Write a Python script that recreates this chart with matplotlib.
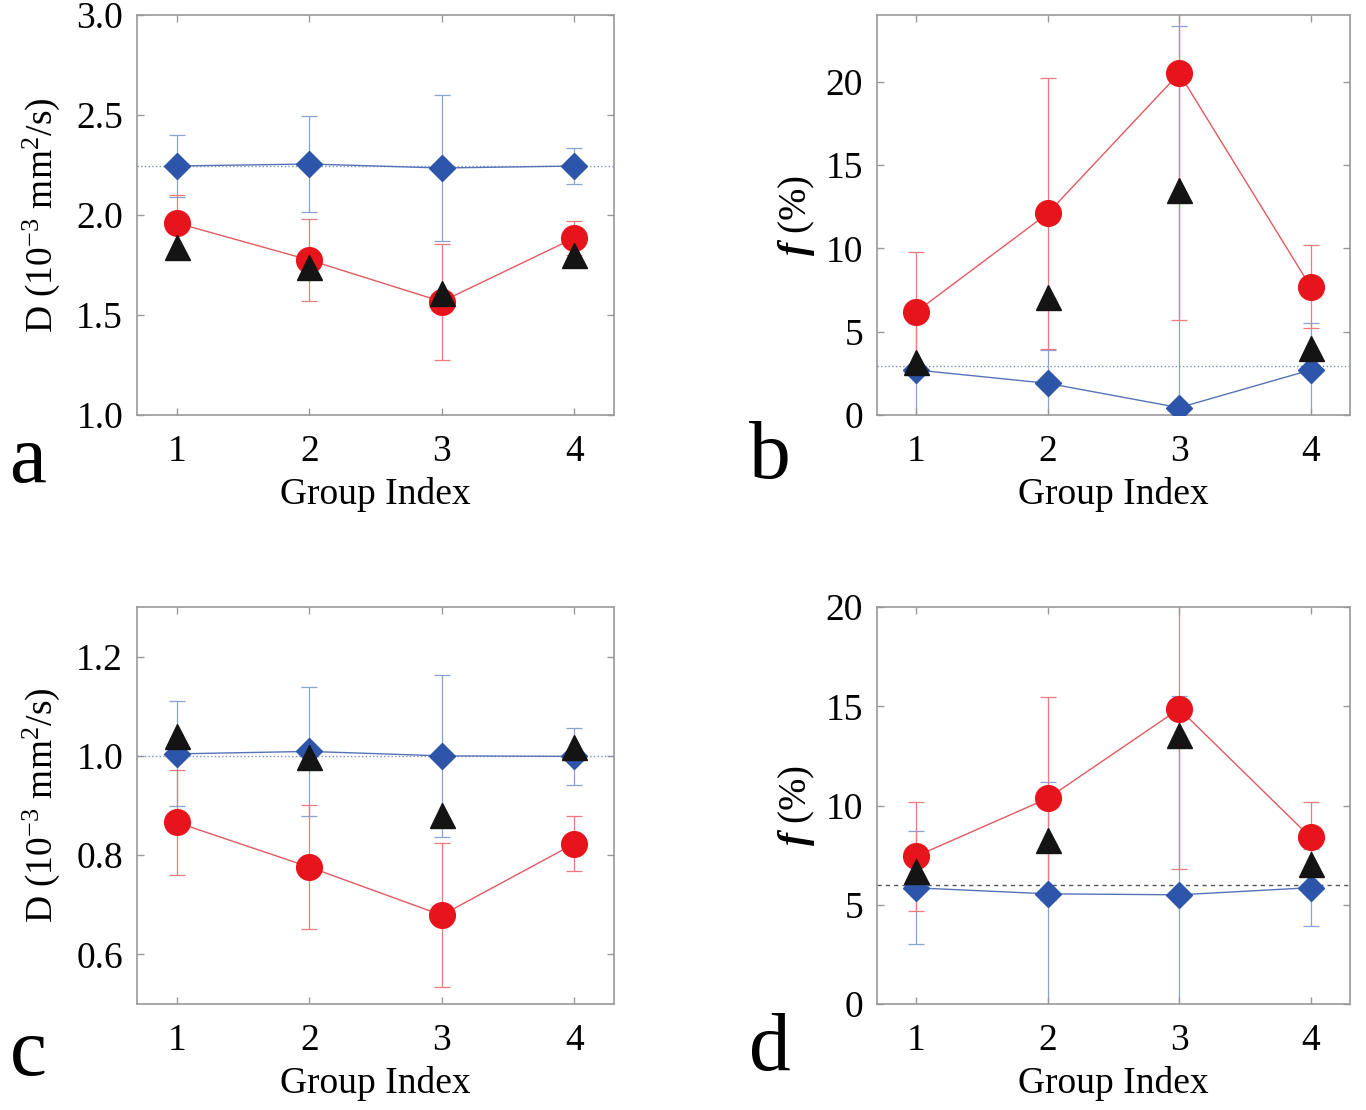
import numpy as np
import matplotlib
matplotlib.use("Agg")
import matplotlib.pyplot as plt

plt.rcParams["font.family"] = "Liberation Serif"
plt.rcParams["mathtext.fontset"] = "custom"
plt.rcParams["mathtext.rm"] = "Liberation Serif"
plt.rcParams["mathtext.it"] = "Liberation Serif:italic:bold"
plt.rcParams["mathtext.bf"] = "Liberation Serif:bold"

groups = [1, 2, 3, 4]

# panel a: D, first set
a_blue = [2.245, 2.255, 2.235, 2.245]
a_blue_err = [0.155, 0.24, 0.365, 0.09]
a_red = [1.96, 1.775, 1.567, 1.885]
a_red_err = [0.14, 0.205, 0.29, 0.085]
a_black = [1.84, 1.74, 1.61, 1.80]
a_ref = 2.245

# panel b: f, first set
b_blue = [2.7, 1.9, 0.44, 2.7]
b_blue_err = [2.8, 2.0, 22.9, 2.8]
b_red = [6.2, 12.1, 20.5, 7.7]
b_red_err = [3.6, 8.15, 14.8, 2.5]
b_black = [3.2, 7.1, 13.5, 4.0]
b_ref = 2.95

# panel c: D, second set
c_blue = [1.004, 1.009, 1.0, 0.999]
c_blue_err = [0.106, 0.13, 0.163, 0.057]
c_red = [0.866, 0.776, 0.679, 0.823]
c_red_err = [0.106, 0.125, 0.145, 0.055]
c_black = [1.04, 0.998, 0.88, 1.018]
c_ref = 1.0

# panel d: f, second set
d_blue = [5.85, 5.55, 5.5, 5.86]
d_blue_err = [2.85, 5.65, 10.0, 1.95]
d_red = [7.45, 10.36, 14.87, 8.39]
d_red_err = [2.75, 5.1, 8.07, 1.8]
d_black = [6.7, 8.25, 13.57, 7.07]
d_ref = 6.0

RED = "#e8141c"
RED_LINE = "#e05a60"
RED_LIGHT = "#ef7a7e"
BLUE = "#2d55aa"
BLUE_LINE = "#5574b8"
BLUE_LIGHT = "#88a2d4"
BLACK = "#141414"
GRAY = "#999999"

D_LABEL = r"D (10$^{-3}$ mm$^{2}$/s)"
F_LABEL = r"$f$ (%)"

fig = plt.figure(figsize=(13.66, 11.10), dpi=100)

W, H = 1366, 1110


def make_axes(left, top, right, bottom):
    return fig.add_axes([left / W, 1 - bottom / H, (right - left) / W, (bottom - top) / H])


def draw_panel(ax, blue, blue_err, red, red_err, black, ref, ref_style, ref_color):
    ax.axhline(ref, ls=ref_style, color=ref_color, lw=1.0, zorder=2)
    ax.errorbar(groups, blue, yerr=blue_err, fmt="none", ecolor=BLUE_LIGHT,
                elinewidth=0.9, capsize=6, capthick=0.9, zorder=1)
    ax.errorbar(groups, red, yerr=red_err, fmt="none", ecolor=RED_LIGHT,
                elinewidth=0.9, capsize=6, capthick=0.9, zorder=1)
    ax.plot(groups, blue, "-", color=BLUE_LINE, lw=1.0, marker="D", ms=13.5,
            mfc=BLUE, mec=BLUE, zorder=3)
    ax.plot(groups, red, "-", color=RED_LINE, lw=1.0, marker="o", ms=18.5,
            mfc=RED, mec=RED, zorder=4)
    ax.plot(groups, black, "none", marker="^", ms=18,
            mfc=BLACK, mec=BLACK, zorder=5)
    ax.set_xlim(0.7, 4.3)
    ax.set_xticks(groups)
    ax.tick_params(direction="in", top=True, right=True, length=5, width=1,
                   color=GRAY, labelsize=27, pad=14)
    ax.tick_params(axis="y", pad=10)
    for sp in ax.spines.values():
        sp.set_color(GRAY)
        sp.set_linewidth(1.2)
    ax.set_xlabel("Group Index", fontsize=27, va="center")
    ax.xaxis.set_label_coords(0.5, -0.2)


ax_a = make_axes(137, 15, 614, 415)
draw_panel(ax_a, a_blue, a_blue_err, a_red, a_red_err, a_black, a_ref, ":", "#7d8fbf")
ax_a.set_ylim(1.0, 3.0)
ax_a.set_yticks([1.0, 1.5, 2.0, 2.5, 3.0])
ax_a.set_yticklabels(["1.0", "1.5", "2.0", "2.5", "3.0"])
ax_a.set_ylabel(D_LABEL, fontsize=27, va="center")
ax_a.yaxis.set_label_coords(-0.2, 0.5)

ax_b = make_axes(877, 15, 1350, 415)
draw_panel(ax_b, b_blue, b_blue_err, b_red, b_red_err, b_black, b_ref, ":", "#7d8fbf")
ax_b.set_ylim(0, 24)
ax_b.set_yticks([0, 5, 10, 15, 20])
ax_b.set_ylabel(F_LABEL, fontsize=28, va="center")
ax_b.yaxis.set_label_coords(-0.17, 0.5)

ax_c = make_axes(137, 607, 614, 1004)
draw_panel(ax_c, c_blue, c_blue_err, c_red, c_red_err, c_black, c_ref, ":", "#7d8fbf")
ax_c.set_ylim(0.5, 1.3)
ax_c.set_yticks([0.6, 0.8, 1.0, 1.2])
ax_c.set_yticklabels(["0.6", "0.8", "1.0", "1.2"])
ax_c.set_ylabel(D_LABEL, fontsize=27, va="center")
ax_c.yaxis.set_label_coords(-0.2, 0.5)

ax_d = make_axes(877, 607, 1350, 1004)
draw_panel(ax_d, d_blue, d_blue_err, d_red, d_red_err, d_black, d_ref, (0, (3, 3)), "#555555")
ax_d.set_ylim(0, 20)
ax_d.set_yticks([0, 5, 10, 15, 20])
ax_d.set_ylabel(F_LABEL, fontsize=28, va="center")
ax_d.yaxis.set_label_coords(-0.17, 0.5)

for letter, x, y in [("a", 28, 462), ("b", 770, 458), ("c", 28, 1055), ("d", 770, 1050)]:
    fig.text(x / W, 1 - y / H, letter, fontsize=60, ha="center", va="center")

fig.savefig("out.png", dpi=100)
